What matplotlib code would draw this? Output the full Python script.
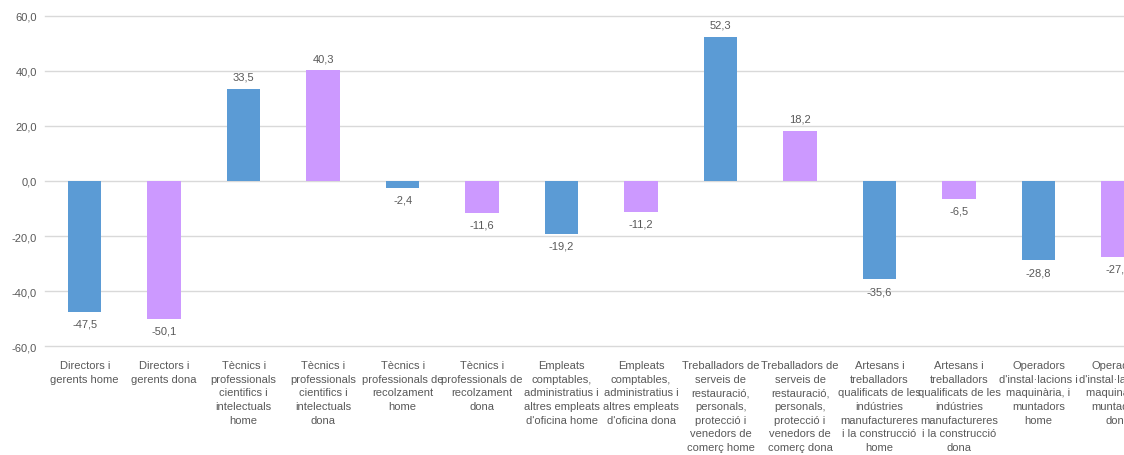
import matplotlib
matplotlib.use('Agg')
import matplotlib.pyplot as plt
from matplotlib.ticker import FuncFormatter

plt.rcParams['font.family'] = ['Liberation Sans Narrow', 'Liberation Sans', 'DejaVu Sans']

# Data
categories = [
    "Directors i\ngerents home",
    "Directors i\ngerents dona",
    "Tècnics i\nprofessionals\ncientifics i\nintelectuals\nhome",
    "Tècnics i\nprofessionals\ncientifics i\nintelectuals\ndona",
    "Tècnics i\nprofessionals de\nrecolzament\nhome",
    "Tècnics i\nprofessionals de\nrecolzament\ndona",
    "Empleats\ncomptables,\nadministratius i\naltres empleats\nd'oficina home",
    "Empleats\ncomptables,\nadministratius i\naltres empleats\nd'oficina dona",
    "Treballadors de\nserveis de\nrestauració,\npersonals,\nprotecció i\nvenedors de\ncomerç home",
    "Treballadors de\nserveis de\nrestauració,\npersonals,\nprotecció i\nvenedors de\ncomerç dona",
    "Artesans i\ntreballadors\nqualificats de les\nindústries\nmanufactureres\ni la construcció\nhome",
    "Artesans i\ntreballadors\nqualificats de les\nindústries\nmanufactureres\ni la construcció\ndona",
    "Operadors\nd'instal·lacions i\nmaquinària, i\nmuntadors\nhome",
    "Operadors\nd'instal·lacions i\nmaquinària, i\nmuntadors\ndona",
]
values = [-47.5, -50.1, 33.5, 40.3, -2.4, -11.6, -19.2, -11.2,
          52.3, 18.2, -35.6, -6.5, -28.8, -27.6]
y_ticks = [-60, -40, -20, 0, 20, 40, 60]

BLUE = '#5B9BD5'
PURPLE = '#CC99FF'
TEXT = '#595959'
GRID = '#D9D9D9'

fig = plt.figure(figsize=(11.24, 4.56), dpi=100)
# axes runs past the right edge of the figure, as in the cropped original
ax = fig.add_axes([0.040, 0.2384, 0.990, 0.725])

x = list(range(len(values)))
colors = [BLUE if i % 2 == 0 else PURPLE for i in x]
ax.bar(x, values, width=0.42, color=colors, zorder=3)

# data labels
for xi, v in zip(x, values):
    label = ('%.1f' % v).replace('.', ',')
    if v >= 0:
        ax.annotate(label, (xi, v), xytext=(0, 5), textcoords='offset points',
                    ha='center', va='bottom', fontsize=8, color=TEXT)
    else:
        ax.annotate(label, (xi, v), xytext=(0, -5), textcoords='offset points',
                    ha='center', va='top', fontsize=8, color=TEXT)

ax.set_xlim(-0.5, len(values) - 0.5)
ax.set_ylim(-60, 60)
ax.set_yticks(y_ticks)
ax.yaxis.set_major_formatter(FuncFormatter(lambda v, p: ('%.1f' % v).replace('.', ',')))
ax.grid(axis='y', color=GRID, linewidth=1, zorder=0)
for gl in ax.get_ygridlines():
    gl.set_clip_on(False)

ax.set_xticks(x)
ax.set_xticklabels(categories, fontsize=8, color=TEXT, linespacing=1.45)
ax.tick_params(axis='x', length=0, pad=10)
ax.tick_params(axis='y', length=0, pad=6, labelsize=8, labelcolor=TEXT)

for s in ax.spines.values():
    s.set_visible(False)

fig.savefig('out.png', dpi=100)
